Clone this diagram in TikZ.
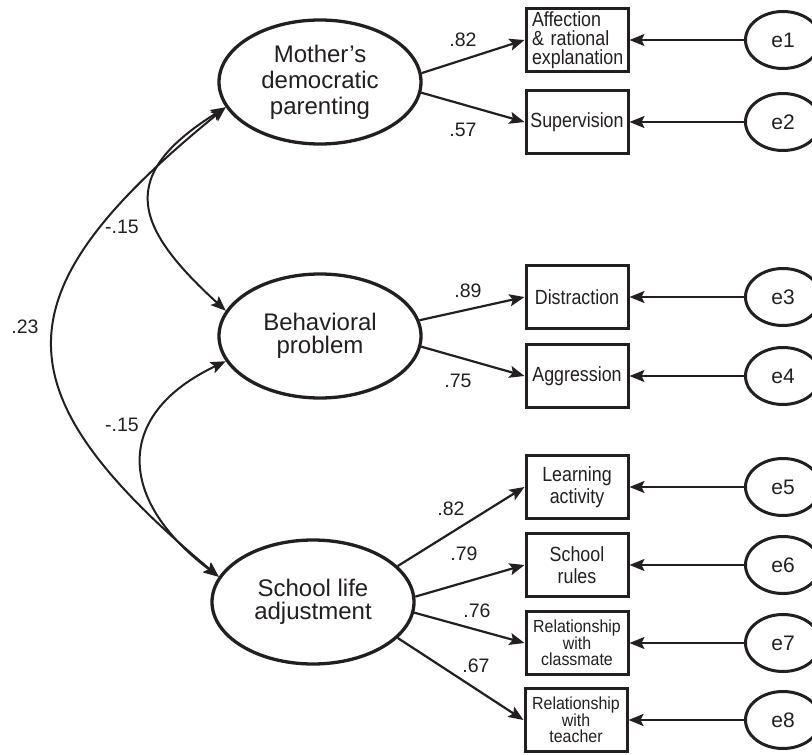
\documentclass[tikz,border=0pt]{standalone}
\usepackage{fontspec}
\setmainfont{Liberation Sans}
\newfontfamily\boxfont[FakeStretch=0.87]{Liberation Sans}
\newfontfamily\relfont[FakeStretch=0.91]{Liberation Sans}
\usetikzlibrary{shapes.geometric,arrows.meta}
\definecolor{ink}{RGB}{35,31,32}
\begin{document}
\begin{tikzpicture}[x=1pt,y=-1pt,
  latent/.style={ellipse, draw=ink, line width=3.3pt, minimum width=202pt, minimum height=124pt,
    align=center, inner sep=0pt, text=ink, font=\fontsize{24}{23.5}\selectfont},
  obs/.style={rectangle, draw=ink, line width=3pt, minimum width=102pt, minimum height=63pt,
    align=center, inner sep=0pt, text=ink, font=\boxfont\fontsize{20.5}{19}\selectfont},
  err/.style={ellipse, draw=ink, line width=3pt, minimum width=75pt, minimum height=57pt,
    inner sep=0pt, text=ink, font=\fontsize{21}{21}\selectfont},
  tip/.tip={Stealth[length=15pt,width=12pt,inset=3pt]},
  load/.style={draw=ink, line width=2.2pt, -tip},
  cov/.style={draw=ink, line width=2pt, tip-tip},
  lab/.style={inner sep=0pt, text=ink, font=\fontsize{19.5}{20}\selectfont}]
\clip (0,0) rectangle (812,755);
\fill[white] (0,0) rectangle (812,755);

% latent variables
\node[latent, font=\fontsize{24}{26}\selectfont] (mom) at (320,82) {Mother’s\\democratic\\parenting};
\node[latent] (beh) at (320,336) {Behavioral\\problem};
\node[latent] (school) at (313,602) {School life\\adjustment};

% observed variables
\node[obs, align=left, text width=90pt] (aff) at (577,40) {Affection\\\& rational\\explanation};
\node[obs] (sup) at (577,122) {Supervision};
\node[obs] (dis) at (577,297) {Distraction};
\node[obs] (agg) at (577,376) {Aggression};
\node[obs, font=\boxfont\fontsize{20.5}{22}\selectfont] (learn) at (577,487) {Learning\\activity};
\node[obs, font=\boxfont\fontsize{20.5}{22}\selectfont] (rules) at (577,565) {School\\rules};
\node[obs, font=\relfont\fontsize{17.5}{16}\selectfont] (mate) at (577,643) {Relationship\\with\\classmate};
\node[obs, font=\relfont\fontsize{17.5}{16}\selectfont] (teach) at (576,720) {Relationship\\with\\teacher};

% error terms
\node[err] (e1) at (783,40) {e1};
\node[err] (e2) at (783,122) {e2};
\node[err] (e3) at (783,297) {e3};
\node[err] (e4) at (783,376) {e4};
\node[err] (e5) at (783,487) {e5};
\node[err] (e6) at (783,565) {e6};
\node[err] (e7) at (783,643) {e7};
\node[err] (e8) at (783,720) {e8};

% loadings
\draw[load] (mom.5) -- (aff.west);
\draw[load] (mom.354) -- (sup.west);
\draw[load] (beh.9) -- (dis.west);
\draw[load] (beh.354) -- (agg.west);
\draw[load] (school.23) -- (learn.west);
\draw[load] (school.3) -- (rules.west);
\draw[load] (school.354) -- (mate.west);
\draw[load] (school.337) -- (teach.west);

% error arrows
\foreach \e/\b in {e1/aff,e2/sup,e3/dis,e4/agg,e5/learn,e6/rules,e7/mate,e8/teach}
  \draw[load] (\e.west) -- (\b.east);

% covariances
\draw[cov] (mom.195) .. controls +(-229,186) and +(-222,-186) .. (school.165);
\draw[cov] (mom.195) .. controls +(-109,68) and +(-93,-85) .. (beh.165);
\draw[cov] (beh.195) .. controls +(-112,53) and +(-102,-77) .. (school.165);

% labels
\node[lab] (l1) at (463,40) {.82};
\node[lab] (l2) at (463,130) {.57};
\node[lab] (l3) at (468,291) {.89};
\node[lab] (l4) at (458,381) {.75};
\node[lab] (l5) at (451,509) {.82};
\node[lab] (l6) at (464,554) {.79};
\node[lab] (l7) at (477,611) {.76};
\node[lab] (l8) at (476,666) {.67};
\node[lab] (c1) at (122,227) {-.15};
\node[lab] (c2) at (25,327) {.23};
\node[lab] (c3) at (122,425) {-.15};
\end{tikzpicture}
\end{document}
